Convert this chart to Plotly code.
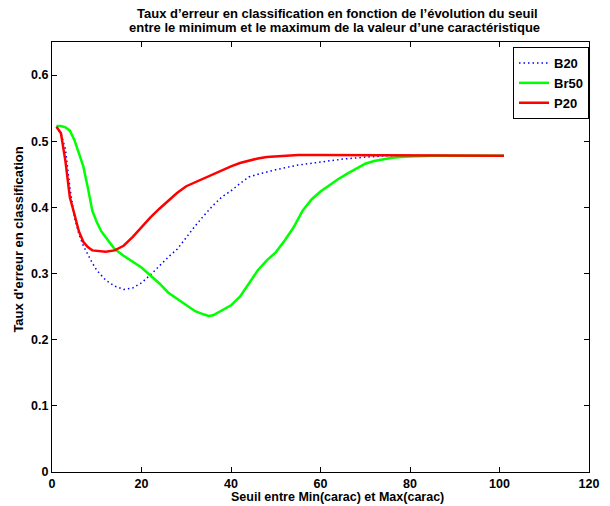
import plotly.graph_objects as go

# ---- data ----
b20_x = [1, 2, 3, 4, 5, 6, 7, 8, 9, 10, 12, 14, 16, 18, 20, 22, 24, 26, 28, 30, 32, 34, 36, 38,
         40, 42, 44, 46, 48, 50, 55, 60, 65, 70, 75, 80, 90, 101]
b20_y = [0.522, 0.512, 0.488, 0.430, 0.385, 0.360, 0.342, 0.328, 0.316, 0.305, 0.290, 0.281,
         0.276, 0.278, 0.286, 0.298, 0.312, 0.325, 0.337, 0.355, 0.372, 0.388, 0.403, 0.416,
         0.425, 0.436, 0.446, 0.450, 0.454, 0.457, 0.464, 0.469, 0.473, 0.476, 0.478, 0.478,
         0.478, 0.478]

br50_x = [1, 2, 3, 4, 5, 6, 7, 8, 9, 10, 11, 12, 14, 16, 18, 20, 22, 24, 26, 28, 30, 32, 34, 35,
          36, 38, 40, 42, 44, 46, 48, 50, 52, 54, 56, 58, 60, 62, 64, 66, 68, 70, 72, 74, 76, 78,
          80, 85, 90, 101]
br50_y = [0.523, 0.523, 0.521, 0.516, 0.502, 0.482, 0.462, 0.430, 0.395, 0.378, 0.364, 0.355,
          0.337, 0.327, 0.318, 0.309, 0.297, 0.285, 0.271, 0.262, 0.252, 0.243, 0.238, 0.236,
          0.237, 0.244, 0.252, 0.265, 0.285, 0.305, 0.320, 0.332, 0.350, 0.370, 0.395, 0.412,
          0.424, 0.434, 0.443, 0.451, 0.459, 0.466, 0.470, 0.473, 0.475, 0.476, 0.477, 0.478,
          0.478, 0.478]

p20_x = [1, 2, 3, 4, 5, 6, 7, 8, 9, 10, 12, 14, 16, 18, 20, 22, 24, 26, 28, 30, 32, 34, 36, 38,
         40, 42, 44, 46, 48, 50, 52, 55, 60, 70, 80, 90, 101]
p20_y = [0.522, 0.512, 0.470, 0.415, 0.390, 0.364, 0.348, 0.340, 0.335, 0.334, 0.333, 0.335,
         0.342, 0.355, 0.370, 0.385, 0.398, 0.410, 0.422, 0.432, 0.438, 0.444, 0.451, 0.457,
         0.462, 0.467, 0.471, 0.474, 0.476, 0.477, 0.478, 0.479, 0.479, 0.479, 0.478, 0.478,
         0.478]

x_ticks = [0, 20, 40, 60, 80, 100, 120]
y_ticks = [0, 0.1, 0.2, 0.3, 0.4, 0.5, 0.6]
y_tick_labels = ["0", "0.1", "0.2", "0.3", "0.4", "0.5", "0.6"]

title_line1 = "Taux d\u2019erreur en classification en fonction de l\u2019\u00e9volution du seuil"
title_line2 = "entre le minimum et le maximum de la valeur d\u2019une caract\u00e9ristique"
x_title = "Seuil entre Min(carac) et Max(carac)"
y_title = "Taux d'erreur en classification"

FONT = "Liberation Sans, Arial, Helvetica, sans-serif"
W, H = 610, 506
L, R, T, B = 52, 11, 42, 34
PH = H - T - B
PW = W - L - R


def px_x(px):
    return (px - L) / PW


def px_y(py):
    return (H - B - py) / PH


fig = go.Figure()
fig.add_trace(go.Scatter(x=b20_x, y=b20_y, mode="lines", name="<b>B20</b>",
                         line=dict(color="#0000ff", width=1.5, dash="1.5px,3px")))
fig.add_trace(go.Scatter(x=br50_x, y=br50_y, mode="lines", name="<b>Br50</b>",
                         line=dict(color="#00ff00", width=2.5)))
fig.add_trace(go.Scatter(x=p20_x, y=p20_y, mode="lines", name="<b>P20</b>",
                         line=dict(color="#ff0000", width=2.5)))

axis_common = dict(showline=True, linecolor="black", linewidth=1.2, mirror="ticks",
                   ticks="inside", ticklen=5, tickcolor="black", tickwidth=1,
                   showgrid=False, zeroline=False,
                   tickfont=dict(family=FONT, size=12.5, color="black"))

ann_font = dict(family=FONT, size=13, color="black")

fig.update_layout(
    width=W, height=H,
    margin=dict(l=L, r=R, t=T, b=B),
    paper_bgcolor="white", plot_bgcolor="white",
    font=dict(family=FONT, color="black"),
    showlegend=True,
    legend=dict(x=1, y=1 - 5 / PH, xanchor="right", yanchor="top",
                bordercolor="black", borderwidth=1, bgcolor="white",
                font=dict(family=FONT, size=13, color="black"),
                tracegroupgap=0, itemwidth=30),
    xaxis=dict(range=[0, 120], tickvals=x_ticks, ticktext=[f"<b>{v}</b>" for v in x_ticks],
               **axis_common),
    yaxis=dict(range=[0, 0.65], tickvals=y_ticks, ticktext=[f"<b>{t}</b>" for t in y_tick_labels],
               **axis_common),
    annotations=[
        dict(text=f"<b>{title_line1}</b>", xref="paper", yref="paper",
             x=px_x(343), y=px_y(14), xanchor="center", yanchor="middle",
             showarrow=False, font=ann_font),
        dict(text=f"<b>{title_line2}</b>", xref="paper", yref="paper",
             x=px_x(340), y=px_y(28), xanchor="center", yanchor="middle",
             showarrow=False, font=ann_font),
        dict(text=f"<b>{x_title}</b>", xref="paper", yref="paper",
             x=px_x(343), y=px_y(489), xanchor="center", yanchor="top",
             showarrow=False, borderpad=0,
             font=dict(family=FONT, size=12.5, color="black")),
        dict(text=f"<b>{y_title}</b>", xref="paper", yref="paper",
             x=px_x(18), y=px_y(240), xanchor="center", yanchor="middle",
             textangle=-90, showarrow=False, font=ann_font),
    ],
)

fig.write_html("out.html", config={"displayModeBar": False},
               post_script="document.body.style.margin='0';")
